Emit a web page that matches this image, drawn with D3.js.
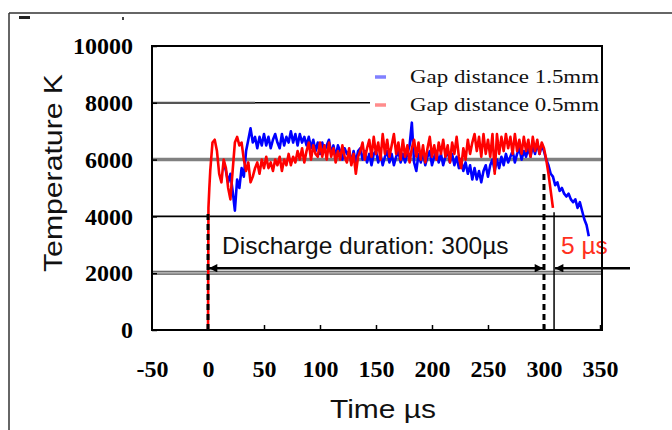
<!DOCTYPE html>
<html>
<head>
<meta charset="utf-8">
<script src="https://cdn.jsdelivr.net/npm/d3@7"></script>
<style>
  html, body { margin: 0; padding: 0; background: #fff; }
  svg { display: block; }
</style>
</head>
<body>
<svg id="chart" width="672" height="430"></svg>
<script>
// ---- data -------------------------------------------------------------
const xTicks = [-50, 0, 50, 100, 150, 200, 250, 300, 350];
const yTicks = [0, 2000, 4000, 6000, 8000, 10000];

const seriesNames = ["Gap distance 1.5mm", "Gap distance 0.5mm"];

// 1.5 mm gap: samples every 2 µs starting at 14 µs
const blueStart = 14, blueStep = 2;
const blueValues = [
  5900, 5600, 5200, 5500, 4900, 4200, 5300, 5000, 5700, 5400, 6300, 6700, 7100, 6600, 6800, 6400, 6800, 6500, 6900, 6500,
  6800, 6400, 6700, 6900, 6600, 6400, 6900, 6500, 6800, 6600, 7000, 6600, 6900, 6500, 6900, 6600, 6800, 6500, 6800, 6400,
  6700, 6300, 6600, 6200, 6600, 6300, 6500, 6700, 6200, 6500, 6100, 6500, 6300, 6000, 6400, 6200, 6300, 5900, 6300, 5900,
  6300, 6400, 6000, 6300, 5900, 6200, 5800, 6200, 6300, 5900, 6200, 5800, 6100, 6300, 5900, 6200, 5800, 6100, 6300, 5900,
  6200, 5900, 6200, 6500, 7300, 5900, 5600, 6200, 5900, 6300, 5800, 6100, 6300, 5800, 6100, 6300, 5900, 6200, 5800, 6100,
  6300, 5900, 6200, 5800, 6100, 5700, 6000, 5600, 5900, 5500, 5800, 5300, 5700, 5300, 5600, 5200, 5600, 5800, 5400, 5800,
  6000, 5600, 6000, 5700, 6100, 5800, 6200, 5900, 6100, 6300, 5900, 6200, 6400, 6000, 6300, 6100, 6400, 6100, 6500, 6200,
  6600, 6200, 6500, 6300, 6000, 5800, 5500, 5400, 5100, 5200, 4900, 5000, 4800, 4700, 4800, 4600, 4500, 4600, 4300, 4500,
  4200, 3900, 3700, 3300
];

// 0.5 mm gap: breakdown onset, then samples every 2 µs from 2 µs
const redOnset = [[0, 0], [0.4, 4300], [1.2, 5000]];
const redStart = 2, redStep = 2;
const redValues = [
  5600, 6600, 6700, 6300, 5500, 5200, 6000, 5700, 5000, 4600, 5600, 6600, 6800, 6500, 6600, 6000, 5600, 5900, 5200, 5400,
  5700, 5900, 5500, 6000, 5700, 6100, 5700, 5900, 5600, 6000, 5800, 6100, 5600, 6000, 5800, 6200, 5800, 6100, 5900, 6300,
  6000, 6400, 5900, 6300, 6600, 6000, 6500, 6200, 6100, 6600, 6100, 6500, 6000, 6600, 6100, 6400, 5900, 6300, 6000, 6500,
  6100, 5900, 6400, 5800, 6200, 5500, 6100, 6300, 6600, 6000, 6400, 6700, 6100, 6800, 6200, 6600, 6000, 6900, 6200, 6700,
  6100, 6500, 6900, 6200, 6600, 6000, 6700, 6100, 6500, 5900, 6400, 6700, 6100, 6600, 6000, 6500, 5900, 6400, 6800, 6100,
  6500, 6000, 6600, 6200, 6700, 6100, 6500, 5900, 6600, 6200, 6800, 6100, 5700, 6400, 6000, 6700, 6200, 6600, 6900, 6300,
  6800, 6100, 6900, 6200, 6700, 6100, 6900, 5500, 6900, 6200, 6800, 6300, 6900, 6400, 6800, 6200, 6900, 6300, 6700, 6200,
  6800, 6300, 6700, 6100, 6800, 6300, 6700, 6200, 6600, 6400,
  6000, 5500, 4900, 4300
];

// annotation times (µs)
const dischargeStart = 0, dischargeEnd = 300, afterglowEnd = 305;

// ---- layout -----------------------------------------------------------
const svg = d3.select("#chart");
const plot = { left: 152, right: 602, top: 46, bottom: 330 };

const x = d3.scaleLinear().domain([-50, 351.8]).range([plot.left, plot.right]);
const y = d3.scaleLinear().domain([0, 10000]).range([plot.bottom, plot.top]);

const blueData = blueValues.map((v, i) => [blueStart + i * blueStep, v]);
const redData = redOnset.concat(redValues.map((v, i) => [redStart + i * redStep, v]));

// outer page frame
svg.append("line").attr("x1", 9).attr("x2", 672).attr("y1", 13).attr("y2", 13)
  .attr("stroke", "#333").attr("stroke-width", 1.5);
svg.append("line").attr("x1", 9).attr("x2", 9).attr("y1", 13).attr("y2", 430)
  .attr("stroke", "#333").attr("stroke-width", 1.5);
// fragments of the clipped heading above the frame
svg.append("rect").attr("x", 19).attr("y", 16).attr("width", 11).attr("height", 3).attr("fill", "#222");
svg.append("rect").attr("x", 122).attr("y", 17).attr("width", 2).attr("height", 3).attr("fill", "#444");

// ---- gridlines --------------------------------------------------------
const grid = svg.append("g");
// 8000 line (partly hidden by legend box)
grid.append("line").attr("x1", x(-50)).attr("x2", 255).attr("y1", y(8000)).attr("y2", y(8000))
  .attr("stroke", "#555").attr("stroke-width", 2.2);
grid.append("line").attr("x1", 255).attr("x2", 370).attr("y1", y(8000)).attr("y2", y(8000))
  .attr("stroke", "#000").attr("stroke-width", 1.6);
// 6000 thick grey
grid.append("line").attr("x1", plot.left).attr("x2", plot.right).attr("y1", y(6000)).attr("y2", y(6000))
  .attr("stroke", "#808080").attr("stroke-width", 3.5);
// 4000 thin black
grid.append("line").attr("x1", plot.left).attr("x2", plot.right).attr("y1", y(4000)).attr("y2", y(4000))
  .attr("stroke", "#000").attr("stroke-width", 1.6);
// 2000 grey band
grid.append("line").attr("x1", plot.left).attr("x2", plot.right).attr("y1", y(2000) - 0.5).attr("y2", y(2000) - 0.5)
  .attr("stroke", "#555").attr("stroke-width", 4);
grid.append("line").attr("x1", plot.left).attr("x2", plot.right).attr("y1", y(2000) - 0.5).attr("y2", y(2000) - 0.5)
  .attr("stroke", "#b0b0b0").attr("stroke-width", 2);

// ---- traces -----------------------------------------------------------
const line = d3.line().x(d => x(d[0])).y(d => y(d[1]));
svg.append("path").datum(blueData).attr("d", line)
  .attr("fill", "none").attr("stroke", "#0000ff").attr("stroke-width", 2.6)
  .attr("stroke-linejoin", "round");
svg.append("path").datum(redData).attr("d", line)
  .attr("fill", "none").attr("stroke", "#ff0000").attr("stroke-width", 2.6)
  .attr("stroke-linejoin", "round");

// ---- discharge markers ------------------------------------------------
svg.append("line").attr("x1", x(dischargeStart)).attr("x2", x(dischargeStart))
  .attr("y1", plot.bottom).attr("y2", y(4150))
  .attr("stroke", "#000").attr("stroke-width", 3).attr("stroke-dasharray", "6,4");
svg.append("line").attr("x1", x(dischargeEnd)).attr("x2", x(dischargeEnd))
  .attr("y1", plot.bottom).attr("y2", y(5550))
  .attr("stroke", "#000").attr("stroke-width", 3).attr("stroke-dasharray", "6,4");
svg.append("line").attr("x1", x(afterglowEnd + 4)).attr("x2", x(afterglowEnd + 4))
  .attr("y1", plot.bottom).attr("y2", y(4150))
  .attr("stroke", "#000").attr("stroke-width", 1.5);

// arrows
const defs = svg.append("defs");
defs.append("marker").attr("id", "head").attr("viewBox", "0 0 10 10")
  .attr("refX", 10).attr("refY", 5).attr("markerWidth", 4).attr("markerHeight", 3.2)
  .attr("orient", "auto-start-reverse").attr("markerUnits", "strokeWidth")
  .append("path").attr("d", "M0,0 L10,5 L0,10 Z").attr("fill", "#000");

const arrowY = y(2000) - 5;
svg.append("line").attr("x1", x(dischargeStart) + 1).attr("x2", x(dischargeEnd) - 1)
  .attr("y1", arrowY).attr("y2", arrowY)
  .attr("stroke", "#000").attr("stroke-width", 2.6)
  .attr("marker-start", "url(#head)").attr("marker-end", "url(#head)");
svg.append("line").attr("x1", 630).attr("x2", x(afterglowEnd + 4) + 1)
  .attr("y1", arrowY).attr("y2", arrowY)
  .attr("stroke", "#000").attr("stroke-width", 2.6)
  .attr("marker-end", "url(#head)");

svg.append("text").attr("x", 222).attr("y", 254)
  .attr("font-family", "Liberation Sans, Arial, sans-serif").attr("font-size", 24.5)
  .attr("fill", "#111").text("Discharge duration: 300µs");
svg.append("text").attr("x", 561).attr("y", 254)
  .attr("font-family", "Liberation Sans, Arial, sans-serif").attr("font-size", 24.5)
  .attr("fill", "#ff3020").text("5 µs");

// ---- legend -----------------------------------------------------------
const legend = svg.append("g");
legend.append("rect").attr("x", 371).attr("y", 60).attr("width", 230).attr("height", 56).attr("fill", "#fff");
const legendColors = ["#8080ff", "#ff8c8c"];
const legendY = [77, 105];
seriesNames.forEach((name, i) => {
  legend.append("line").attr("x1", 375).attr("x2", 386).attr("y1", legendY[i]).attr("y2", legendY[i])
    .attr("stroke", legendColors[i]).attr("stroke-width", 3.5);
  legend.append("text").attr("x", 410).attr("y", legendY[i] + 6)
    .attr("font-family", "Liberation Serif, Times New Roman, serif").attr("font-size", 19)
    .attr("textLength", 189).attr("lengthAdjust", "spacingAndGlyphs")
    .attr("fill", "#111").text(name);
});

// ---- axes -------------------------------------------------------------
const plain = d => String(d);
const xAxis = svg.append("g").attr("transform", `translate(0,${plot.bottom})`)
  .call(d3.axisBottom(x).tickValues(xTicks).tickFormat(plain).tickSize(-5).tickPadding(30).tickSizeOuter(0));
const yAxis = svg.append("g").attr("transform", `translate(${plot.left},0)`)
  .call(d3.axisLeft(y).tickValues(yTicks).tickFormat(plain).tickSize(-5).tickPadding(19).tickSizeOuter(0));

[xAxis, yAxis].forEach(a => {
  a.select(".domain").remove();
  a.selectAll(".tick line").attr("stroke", "#000").attr("stroke-width", 1.5);
  a.selectAll(".tick text")
    .attr("font-family", "Liberation Serif, Times New Roman, serif")
    .attr("font-weight", "bold").attr("font-size", 24).attr("fill", "#000");
});
xAxis.selectAll(".tick").filter(d => d <= 0).select("line").remove();

// plot frame
svg.append("rect").attr("x", plot.left).attr("y", plot.top)
  .attr("width", plot.right - plot.left).attr("height", plot.bottom - plot.top)
  .attr("fill", "none").attr("stroke", "#000").attr("stroke-width", 2);

// axis titles
svg.append("text").attr("x", 383).attr("y", 418).attr("text-anchor", "middle")
  .attr("font-family", "Liberation Sans, Arial, sans-serif").attr("font-size", 26)
  .attr("textLength", 106).attr("lengthAdjust", "spacingAndGlyphs")
  .attr("fill", "#111").text("Time  µs");
svg.append("text").attr("transform", "translate(62,173) rotate(-90)").attr("text-anchor", "middle")
  .attr("font-family", "Liberation Sans, Arial, sans-serif").attr("font-size", 26)
  .attr("textLength", 198).attr("lengthAdjust", "spacingAndGlyphs")
  .attr("fill", "#111").text("Temperature  K");
</script>
</body>
</html>
